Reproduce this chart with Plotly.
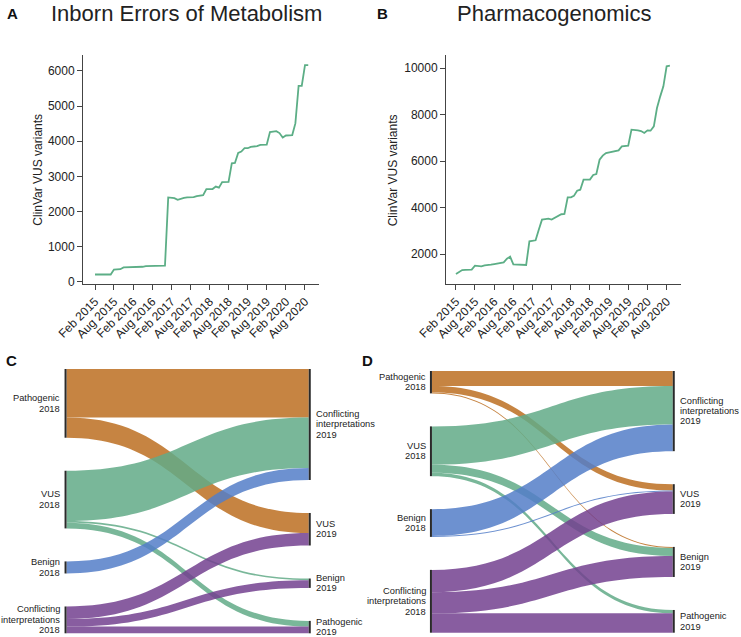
import plotly.graph_objects as go
import pandas as pd

W, H = 741, 637

# ---------------- data: ClinVar VUS counts (monthly, Feb 2015 ->) ----------------
months = pd.date_range("2015-02-01", periods=68, freq="MS")
iem_vus = [210, 210, 210, 210, 210, 210, 352, 352, 360, 410,
           410, 410, 410, 410, 412, 430, 448, 450, 452, 455,
           457, 457, 460, 2400, 2400, 2380, 2335, 2370, 2390, 2405,
           2405, 2410, 2440, 2460, 2467, 2638, 2640, 2640, 2710, 2680,
           2838, 2838, 2845, 3371, 3380, 3667, 3705, 3800, 3800, 3838,
           3850, 3860, 3895, 3895, 3900, 4257, 4280, 4286, 4230, 4105,
           4162, 4170, 4175, 4505, 5571, 5571, 6162, 6162]
pgx_vus = [1140, 1230, 1310, 1320, 1320, 1330, 1498, 1490, 1470, 1512,
           1520, 1540, 1570, 1590, 1610, 1640, 1800, 1885, 1556, 1550,
           1541, 1535, 1527, 2545, 2580, 2590, 3050, 3477, 3500, 3520,
           3480, 3560, 3640, 3710, 3720, 4437, 4440, 4500, 4724, 4767,
           5197, 5197, 5200, 5400, 5441, 6057, 6230, 6344, 6370, 6390,
           6420, 6459, 6631, 6640, 6659, 7348, 7340, 7320, 7290, 7204,
           7319, 7305, 7491, 8280, 8781, 9211, 10072, 10100]
tick_dates = ["2015-02-01", "2015-08-01", "2016-02-01", "2016-08-01",
              "2017-02-01", "2017-08-01", "2018-02-01", "2018-08-01",
              "2019-02-01", "2019-08-01", "2020-02-01", "2020-08-01"]
tick_text = ["Feb 2015", "Aug 2015", "Feb 2016", "Aug 2016", "Feb 2017",
             "Aug 2017", "Feb 2018", "Aug 2018", "Feb 2019", "Aug 2019",
             "Feb 2020", "Aug 2020"]
iem_yticks = [0, 1000, 2000, 3000, 4000, 5000, 6000]
pgx_yticks = [2000, 4000, 6000, 8000, 10000]

# ---------------- data: reclassification flows 2018 -> 2019 ----------------
nodes_2018 = ["Pathogenic", "VUS", "Benign", "Conflicting interpretations"]
nodes_2019 = ["Conflicting interpretations", "VUS", "Benign", "Pathogenic"]

iem_src = [0, 0, 1, 1, 1, 2, 3, 3, 3]
iem_tgt = [0, 1, 0, 2, 3, 0, 1, 2, 3]
iem_val = [145, 60, 150, 5, 17, 36, 37, 23, 20]

pgx_src = [0, 0, 0, 1, 1, 1, 2, 2, 3, 3, 3]
pgx_tgt = [0, 1, 2, 0, 2, 3, 0, 1, 1, 2, 3]
pgx_val = [45, 19, 3, 115, 24, 10, 80, 3, 67, 63, 58]

# ---------------- styling ----------------
FONT = "Liberation Sans, Arial, Helvetica, sans-serif"
TXT = "#222222"
LINE_COLOR = "rgb(92,174,134)"
SRC_COLORS = {"Pathogenic": "rgba(188,110,33,0.85)",
              "VUS": "rgba(97,170,135,0.85)",
              "Benign": "rgba(84,126,200,0.85)",
              "Conflicting interpretations": "rgba(115,65,143,0.85)"}


def px(x):
    return x / W


def py(y):
    return 1 - y / H


fig = go.Figure()
annotations = []

# ---------------- top line charts ----------------
fig.add_trace(go.Scatter(x=months, y=iem_vus, mode="lines",
                         line=dict(color=LINE_COLOR, width=1.8),
                         xaxis="x", yaxis="y", hoverinfo="skip"))
fig.add_trace(go.Scatter(x=months, y=pgx_vus, mode="lines",
                         line=dict(color=LINE_COLOR, width=1.8),
                         xaxis="x2", yaxis="y2", hoverinfo="skip"))

axis_common = dict(showline=True, linecolor="#444", linewidth=1, ticks="outside",
                   ticklen=5, tickcolor="#444", showgrid=False, zeroline=False,
                   automargin=False,
                   tickfont=dict(family=FONT, size=12, color=TXT))

top_y = [py(284), py(55)]
fig.update_layout(
    xaxis=dict(domain=[px(83), px(319)], anchor="y",
               range=["2014-10-09", "2020-12-13"],
               tickvals=tick_dates, ticktext=tick_text, tickangle=-45, **axis_common),
    yaxis=dict(domain=top_y, anchor="x", range=[-60, 6450],
               tickvals=iem_yticks, ticktext=[str(v) for v in iem_yticks], **axis_common),
    xaxis2=dict(domain=[px(446), px(681)], anchor="y2",
                range=["2014-10-29", "2020-12-16"],
                tickvals=tick_dates, ticktext=tick_text, tickangle=-45, **axis_common),
    yaxis2=dict(domain=top_y, anchor="x2", range=[710, 10560],
                tickvals=pgx_yticks, ticktext=[str(v) for v in pgx_yticks], **axis_common),
)

for xc in (37.7, 393.3):
    annotations.append(dict(text="ClinVar VUS variants", x=px(xc), y=py(170),
                            xref="paper", yref="paper", showarrow=False, textangle=-90,
                            xanchor="center", yanchor="middle",
                            font=dict(family=FONT, size=12, color=TXT)))

# titles and panel letters
annotations.append(dict(text="Inborn Errors of Metabolism", x=px(186.5), y=py(13),
                        xref="paper", yref="paper", showarrow=False,
                        xanchor="center", yanchor="middle",
                        font=dict(family=FONT, size=22, color=TXT)))
annotations.append(dict(text="Pharmacogenomics", x=px(553.5), y=py(13),
                        xref="paper", yref="paper", showarrow=False,
                        xanchor="center", yanchor="middle",
                        font=dict(family=FONT, size=22, color=TXT)))
for letter, lx, ly in (("A", 12, 13), ("B", 382, 13), ("C", 11.5, 360), ("D", 367, 360)):
    annotations.append(dict(text="<b>%s</b>" % letter, x=px(lx), y=py(ly),
                            xref="paper", yref="paper", showarrow=False,
                            xanchor="center", yanchor="middle",
                            font=dict(family=FONT, size=15, color="#111")))


# ---------------- alluvial (sankey) panels ----------------
def add_alluvial(src, tgt, val, x0, x1, y0, y1, pad=33):
    hpx = y1 - y0
    total = sum(val)
    ky = (hpx - 3 * pad) / total
    left_tot = [sum(v for s, v in zip(src, val) if s == i) for i in range(4)]
    right_tot = [sum(v for t, v in zip(tgt, val) if t == i) for i in range(4)]

    def centers(tots):
        out, top = [], 0.0
        for t in tots:
            h = t * ky
            out.append((top + h / 2) / hpx)
            top += h + pad
        return out

    lc, rc = centers(left_tot), centers(right_tot)
    fig.add_trace(go.Sankey(
        domain=dict(x=[px(x0), px(x1)], y=[py(y1), py(y0)]),
        arrangement="fixed",
        hoverinfo="none",
        node=dict(pad=pad, thickness=2, color="#2a2a2a", line=dict(width=0),
                  label=[""] * 8,
                  x=[0.001] * 4 + [0.999] * 4,
                  y=lc + rc),
        link=dict(source=src, target=[t + 4 for t in tgt], value=val,
                  color=[SRC_COLORS[nodes_2018[s]] for s in src],
                  hoverinfo="none"),
    ))

    def label_lines(name, year):
        if name.startswith("Conflicting"):
            return ["Conflicting", "interpretations", year]
        return [name, year]

    for names, cents, year, xa, xpos in ((nodes_2018, lc, "2018", "right", x0 - 3),
                                         (nodes_2019, rc, "2019", "left", x1 + 4)):
        for name, c in zip(names, cents):
            lines = label_lines(name, year)
            yc = y0 + c * hpx
            n = len(lines)
            for k, ln in enumerate(lines):
                yy = yc + (k - (n - 1) / 2) * 10.4
                annotations.append(dict(text=ln, x=px(xpos), y=py(yy),
                                        xref="paper", yref="paper", showarrow=False,
                                        xanchor=xa, yanchor="middle", align=xa,
                                        font=dict(family=FONT, size=9.3, color=TXT)))


add_alluvial(iem_src, iem_tgt, iem_val, 65.3, 310.0, 369.0, 633.3)
add_alluvial(pgx_src, pgx_tgt, pgx_val, 430.7, 674.0, 371.0, 632.7)

fig.update_layout(
    width=W, height=H,
    margin=dict(l=0, r=0, t=0, b=0, autoexpand=False),
    paper_bgcolor="white", plot_bgcolor="white",
    showlegend=False,
    annotations=annotations,
    font=dict(family=FONT, color=TXT),
)

# remove the browser's default 8px body margin so the figure fills the window
fig.write_html("out.html",
               config={"displayModeBar": False},
               post_script="document.body.style.margin='0';"
                           "document.body.style.overflow='hidden';")
